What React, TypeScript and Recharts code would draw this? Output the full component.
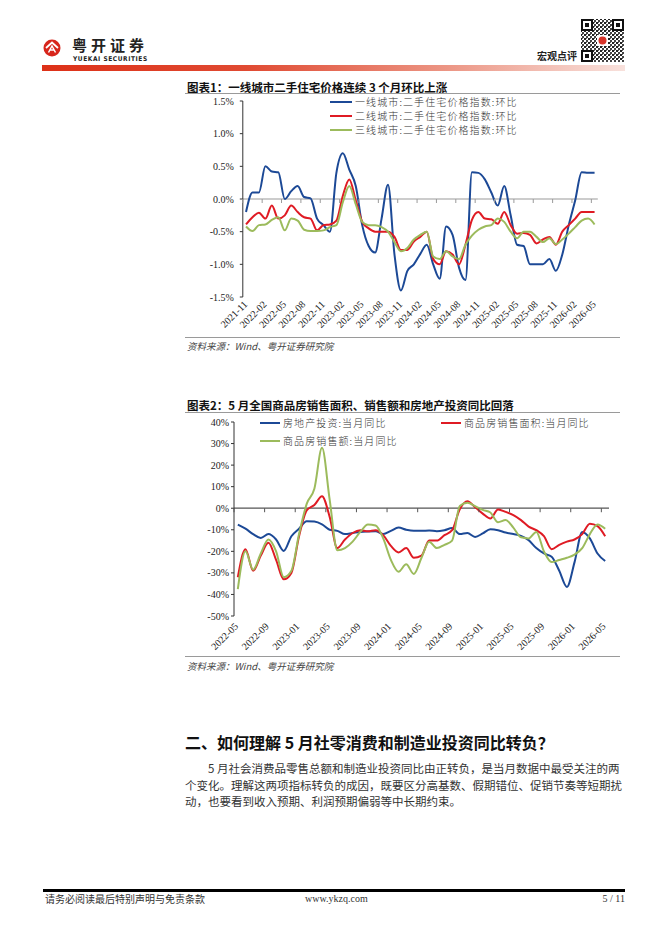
import { Legend, Line, LineChart, ReferenceLine, XAxis, YAxis } from 'recharts';

const CJK = '"Noto Sans CJK SC", "Noto Sans", sans-serif';
const SERIF = '"Liberation Serif", "Times New Roman", serif';

const BLUE = '#1c4996';
const RED = '#df1b24';
const GREEN = '#9cbb5c';

// 图表1：二手住宅价格指数环比（%）
const MONTHS_1 = [
  '2021-11', '2021-12',
  '2022-01', '2022-02', '2022-03', '2022-04', '2022-05', '2022-06', '2022-07', '2022-08', '2022-09', '2022-10', '2022-11', '2022-12',
  '2023-01', '2023-02', '2023-03', '2023-04', '2023-05', '2023-06', '2023-07', '2023-08', '2023-09', '2023-10', '2023-11', '2023-12',
  '2024-01', '2024-02', '2024-03', '2024-04', '2024-05', '2024-06', '2024-07', '2024-08', '2024-09', '2024-10', '2024-11', '2024-12',
  '2025-01', '2025-02', '2025-03', '2025-04', '2025-05', '2025-06', '2025-07', '2025-08', '2025-09', '2025-10', '2025-11', '2025-12',
  '2026-01', '2026-02', '2026-03', '2026-04', '2026-05',
];
const TICKS_1 = [
  '2021-11', '2022-02', '2022-05', '2022-08', '2022-11', '2023-02', '2023-05', '2023-08', '2023-11', '2024-02',
  '2024-05', '2024-08', '2024-11', '2025-02', '2025-05', '2025-08', '2025-11', '2026-02', '2026-05',
];
const TIER1_MOM = [
  -0.2, 0.1, 0.1, 0.5, 0.42, 0.41, 0.0, 0.12, 0.2, 0.03, 0.01, -0.3, -0.4, -0.5, 0.4, 0.7, 0.45, 0.2, -0.4, -0.72,
  -0.82, -0.3, 0.22, -0.85, -1.4, -1.1, -1.0, -0.84, -0.7, -1.0, -1.22, -0.42, -0.55, -1.05, -1.24, 0.41, 0.4, 0.3, 0.1, -0.1,
  0.2, -0.25, -0.7, -0.72, -1.0, -1.0, -1.0, -0.92, -1.1, -0.85, -0.4, -0.02, 0.41, 0.4, 0.4,
];
const TIER2_MOM = [
  -0.39, -0.28, -0.21, -0.3, -0.1, -0.3, -0.25, -0.1, -0.2, -0.28, -0.3, -0.48, -0.4, -0.39, -0.33, 0.05, 0.3, -0.02, -0.35, -0.45,
  -0.5, -0.5, -0.5, -0.58, -0.78, -0.78, -0.65, -0.58, -0.5, -0.92, -1.0, -0.8, -0.85, -1.0, -0.7, -0.32, -0.2, -0.3, -0.31, -0.38,
  -0.2, -0.4, -0.53, -0.52, -0.55, -0.68, -0.62, -0.58, -0.7, -0.5, -0.4, -0.3, -0.2, -0.2, -0.2,
];
const TIER3_MOM = [
  -0.42, -0.49, -0.4, -0.39, -0.32, -0.28, -0.48, -0.3, -0.33, -0.47, -0.49, -0.49, -0.48, -0.43, -0.4, -0.05, 0.2, -0.08, -0.35, -0.4,
  -0.4, -0.43, -0.5, -0.66, -0.8, -0.75, -0.62, -0.55, -0.5, -0.88, -0.92, -0.8, -0.88, -0.92, -0.7, -0.56, -0.47, -0.42, -0.4, -0.3,
  -0.35, -0.5, -0.6, -0.5, -0.5, -0.58, -0.66, -0.6, -0.69, -0.62, -0.53, -0.43, -0.33, -0.3, -0.39,
];
const Y_TICKS_1 = [-1.5, -1, -0.5, 0, 0.5, 1, 1.5];

// 图表2：当月同比（%）
const MONTHS_2 = [
  '2022-05', '2022-06', '2022-07', '2022-08', '2022-09', '2022-10', '2022-11', '2022-12',
  '2023-01', '2023-02', '2023-03', '2023-04', '2023-05', '2023-06', '2023-07', '2023-08', '2023-09', '2023-10', '2023-11', '2023-12',
  '2024-01', '2024-02', '2024-03', '2024-04', '2024-05', '2024-06', '2024-07', '2024-08', '2024-09', '2024-10', '2024-11', '2024-12',
  '2025-01', '2025-02', '2025-03', '2025-04', '2025-05', '2025-06', '2025-07', '2025-08', '2025-09', '2025-10', '2025-11', '2025-12',
  '2026-01', '2026-02', '2026-03', '2026-04', '2026-05',
];
const TICKS_2 = [
  '2022-05', '2022-09', '2023-01', '2023-05', '2023-09', '2024-01', '2024-05', '2024-09', '2025-01', '2025-05',
  '2025-09', '2026-01', '2026-05',
];
const INVEST_YOY = [
  -7.6, -9.5, -12, -13.8, -12, -14.5, -19.8, -13, -9.5, -6, -6.2, -7.5, -10, -10.5, -12, -11.5, -11, -10.8, -10.7, -12,
  -10.5, -9, -10, -10.5, -10.5, -10.3, -10.7, -10.2, -9.2, -12, -11.5, -13.3, -11.7, -9.8, -10.2, -11.3, -12, -12.8, -14.8, -18.5,
  -21, -22.5, -29, -36.5, -25, -11, -14, -21, -24.5,
];
const AREA_YOY = [
  -32, -19, -29, -22, -16, -24, -33, -30, -13, -1, 1.5, 5.5, -4, -18.5, -14.5, -11.5, -10.2, -10.7, -10.2, -12.5,
  -17.5, -20.5, -18.5, -23, -22, -15, -15, -12.5, -10.2, -0.5, 3.2, 0.5, -2.5, -4.8, -0.6, -1.7, -3.2, -5.5, -8.5, -10.2,
  -13, -19, -17, -15.5, -14.5, -12, -7.2, -8.3, -13,
];
const AMOUNT_YOY = [
  -37.5, -20, -28.5, -21, -14.5, -20, -32, -29, -12, 2, 9, 28, 4, -19.5, -18.5, -15.5, -11, -7.5, -8, -14,
  -24, -29.5, -26, -30.5, -23, -15.5, -18.5, -17, -15, 1, 2.5, 1, -0.8, -2, -6.5, -5.5, -9, -13.5, -14, -11,
  -20, -25, -24, -23, -21.5, -18.5, -12, -7.5, -9.5,
];
const Y_TICKS_2 = [-50, -40, -30, -20, -10, 0, 10, 20, 30, 40];

type Series = { key: string; name: string; color: string; values: number[] };

const SERIES_1: Series[] = [
  { key: 'tier1', name: '一线城市:二手住宅价格指数:环比', color: BLUE, values: TIER1_MOM },
  { key: 'tier2', name: '二线城市:二手住宅价格指数:环比', color: RED, values: TIER2_MOM },
  { key: 'tier3', name: '三线城市:二手住宅价格指数:环比', color: GREEN, values: TIER3_MOM },
];

const SERIES_2: Series[] = [
  { key: 'invest', name: '房地产投资:当月同比', color: BLUE, values: INVEST_YOY },
  { key: 'area', name: '商品房销售面积:当月同比', color: RED, values: AREA_YOY },
  { key: 'amount', name: '商品房销售额:当月同比', color: GREEN, values: AMOUNT_YOY },
];

interface PanelProps {
  months: string[];
  ticks: string[];
  series: Series[];
  yTicks: number[];
  yFormat: (v: number) => string;
  width: number;
  height: number;
  top: number;
  right: number;
  yWidth: number;
  plotH: number;
  yTickMargin: number;
  zeroColor: string;
  labelDx: number;
  labelDy: number;
  legend: { left: number; top: number; width: number; itemWidth: number; rowH: number; lineW: number; spacing: number };
}

function Panel(p: PanelProps) {
  const data = p.months.map((m, i) => {
    const row: Record<string, string | number> = { month: m };
    p.series.forEach((s) => {
      row[s.key] = s.values[i];
    });
    return row;
  });
  const yMin = p.yTicks[0];
  const yMax = p.yTicks[p.yTicks.length - 1];
  const plotW = p.width - p.yWidth - p.right;
  const half = plotW / p.months.length / 2;
  const zeroY = p.top + (p.plotH * yMax) / (yMax - yMin);
  const plotBottom = p.top + p.plotH;

  // label under the plot, tick mark on the zero line at the category boundary
  const renderTick = (props: any) => {
    const { x, payload } = props;
    const tx = x + p.labelDx;
    const ty = plotBottom + p.labelDy;
    return (
      <g>
        <line x1={x - half} x2={x - half} y1={zeroY} y2={zeroY + 4} stroke={p.zeroColor} strokeWidth={1} />
        <text
          x={tx}
          y={ty}
          transform={`rotate(-45 ${tx} ${ty})`}
          textAnchor="end"
          fontFamily={SERIF}
          fontSize={10}
          fill="#222"
        >
          {payload.value}
        </text>
      </g>
    );
  };

  const renderLegend = (props: any) => {
    const items = p.series.map((s) => props.payload?.find((it: any) => it.dataKey === s.key) ?? { value: s.name, color: s.color });
    return (
      <div style={{ display: 'flex', flexWrap: 'wrap', width: p.legend.width }}>
        {items.map((it: any) => (
          <div key={it.value} style={{ width: p.legend.itemWidth, height: p.legend.rowH, display: 'flex', alignItems: 'center' }}>
            <svg width={p.legend.lineW} height={4} style={{ flex: 'none' }}>
              <line x1={0} x2={p.legend.lineW} y1={2} y2={2} stroke={it.color} strokeWidth={2} />
            </svg>
            <span
              style={{
                marginLeft: 3,
                fontFamily: CJK,
                fontSize: 10,
                fontWeight: 300,
                letterSpacing: p.legend.spacing,
                color: '#333',
                whiteSpace: 'nowrap',
                lineHeight: 1,
              }}
            >
              {it.value}
            </span>
          </div>
        ))}
      </div>
    );
  };

  return (
    <LineChart
      width={p.width}
      height={p.height}
      data={data}
      margin={{ top: p.top, right: p.right, bottom: 0, left: 0 }}
    >
      <XAxis
        dataKey="month"
        ticks={p.ticks}
        interval={0}
        axisLine={false}
        tickLine={false}
        height={p.height - p.top - p.plotH}
        padding={{ left: half, right: half }}
        tick={renderTick}
      />
      <YAxis
        type="number"
        domain={[yMin, yMax]}
        ticks={p.yTicks}
        interval={0}
        width={p.yWidth}
        tickFormatter={p.yFormat}
        axisLine={{ stroke: '#333' }}
        tickLine={{ stroke: '#333' }}
        tickSize={3}
        tickMargin={p.yTickMargin}
        tick={{ fontFamily: SERIF, fontSize: 10, fill: '#222' }}
      />
      <ReferenceLine y={0} stroke={p.zeroColor} strokeWidth={1.2} />
      <Legend
        layout="vertical"
        align="center"
        verticalAlign="middle"
        wrapperStyle={{ left: p.legend.left, top: p.legend.top, width: p.legend.width }}
        content={renderLegend}
      />
      {p.series.map((s) => (
        <Line
          key={s.key}
          type="monotone"
          dataKey={s.key}
          name={s.name}
          stroke={s.color}
          strokeWidth={2}
          dot={false}
          activeDot={false}
          isAnimationActive={false}
        />
      ))}
    </LineChart>
  );
}

const abs = (left: number, top: number, extra: React.CSSProperties = {}): React.CSSProperties => ({
  position: 'absolute',
  left,
  top,
  ...extra,
});

function QrCode() {
  return (
    <svg width={45} height={45} viewBox="0 0 45 45">
      <defs>
        <pattern id="qrdots" width="4" height="4" patternUnits="userSpaceOnUse">
          <rect width="2" height="2" fill="#222" />
          <rect x="2" y="2" width="2" height="2" fill="#444" />
          <rect x="2" y="0" width="1" height="1" fill="#666" />
        </pattern>
      </defs>
      <rect width="45" height="45" fill="#fff" />
      <rect x="1" y="1" width="43" height="43" fill="url(#qrdots)" />
      {[
        [1, 1],
        [32, 1],
        [1, 32],
      ].map(([x, y]) => (
        <g key={`${x}-${y}`}>
          <rect x={x} y={y} width={12} height={12} fill="#fff" />
          <rect x={x + 1} y={y + 1} width={10} height={10} fill="none" stroke="#111" strokeWidth={2} />
          <rect x={x + 4} y={y + 4} width={4} height={4} fill="#111" />
        </g>
      ))}
      <rect x={17} y={17} width={11} height={11} fill="#fff" />
      <circle cx={22.5} cy={22.5} r={4} fill="#d8342a" />
    </svg>
  );
}

function Logo() {
  return (
    <svg width={18} height={18} viewBox="0 0 18 18">
      <circle cx={9} cy={9} r={8.5} fill="#d7261c" />
      <path d="M3 9 L9 3.5 L15 9" stroke="#fff" strokeWidth={1.8} fill="none" />
      <path d="M5.5 13.5 L9 7 L12.5 13.5 M6.5 11 H11.5" stroke="#fff" strokeWidth={1.5} fill="none" />
    </svg>
  );
}

export default function App() {
  const pct1 = (v: number) => `${v.toFixed(1)}%`;
  const pct2 = (v: number) => `${v}%`;
  return (
    <div style={{ position: 'absolute', left: 0, top: 0, width: 662, height: 936, background: '#fff', fontFamily: CJK, color: '#111' }}>
      {/* header */}
      <div style={abs(43, 38)}>
        <Logo />
      </div>
      <div style={abs(72, 37, { fontSize: 15, fontWeight: 700, letterSpacing: 4, lineHeight: '16px', color: '#222' })}>粤开证券</div>
      <div style={abs(73, 56, { fontSize: 6.5, fontWeight: 700, letterSpacing: 0.6, lineHeight: '7px', color: '#222', fontFamily: '"DejaVu Sans Condensed", "DejaVu Sans", sans-serif' })}>
        YUEKAI SECURITIES
      </div>
      <div
        style={abs(42, 65, {
          width: 583,
          height: 6,
          background: 'linear-gradient(to right, #dd3118 0%, #e04a32 35%, #ec9786 70%, #f8e1dc 100%)',
        })}
      />
      <div style={abs(537, 50, { fontSize: 10, fontWeight: 700, color: '#222', lineHeight: '12px' })}>宏观点评</div>
      <div style={abs(580, 18)}>
        <QrCode />
      </div>

      {/* chart 1 */}
      <div style={abs(187, 80, { fontSize: 11.5, fontWeight: 700, lineHeight: '14px', whiteSpace: 'nowrap' })}>
        图表1：一线城市二手住宅价格连续 3 个月环比上涨
      </div>
      <div style={abs(185, 93, { width: 435, height: 1, background: '#9a9a9a' })} />
      <div style={abs(180, 90)}>
        <Panel
          months={MONTHS_1}
          ticks={TICKS_1}
          series={SERIES_1}
          yTicks={Y_TICKS_1}
          yFormat={pct1}
          width={430}
          height={262}
          top={11}
          right={12.2}
          yWidth={62.8}
          plotH={196}
          yTickMargin={6}
          zeroColor="#9a9a9a"
          labelDx={2}
          labelDy={8}
          legend={{ left: 150, top: 5, width: 220, itemWidth: 220, rowH: 14, lineW: 22, spacing: 1.1 }}
        />
      </div>
      <div style={abs(185, 337, { width: 435, height: 1, background: '#9a9a9a' })} />
      <div style={abs(187, 340, { fontSize: 9.5, fontStyle: 'italic', color: '#444', lineHeight: '12px' })}>
        资料来源：Wind、粤开证券研究院
      </div>

      {/* chart 2 */}
      <div style={abs(187, 398, { fontSize: 11.5, fontWeight: 700, lineHeight: '14px', whiteSpace: 'nowrap' })}>
        图表2：5 月全国商品房销售面积、销售额和房地产投资同比回落
      </div>
      <div style={abs(185, 412, { width: 435, height: 1, background: '#9a9a9a' })} />
      <div style={abs(180, 410)}>
        <Panel
          months={MONTHS_2}
          ticks={TICKS_2}
          series={SERIES_2}
          yTicks={Y_TICKS_2}
          yFormat={pct2}
          width={440}
          height={258}
          top={12}
          right={11}
          yWidth={54}
          plotH={194}
          yTickMargin={2}
          zeroColor="#555"
          labelDx={1}
          labelDy={11}
          legend={{ left: 80, top: 4, width: 362, itemWidth: 181, rowH: 18, lineW: 20, spacing: 1.1 }}
        />
      </div>
      <div style={abs(185, 656, { width: 435, height: 1, background: '#9a9a9a' })} />
      <div style={abs(187, 660, { fontSize: 9.5, fontStyle: 'italic', color: '#444', lineHeight: '12px' })}>
        资料来源：Wind、粤开证券研究院
      </div>

      {/* section text */}
      <div style={abs(185, 732, { fontSize: 16, fontWeight: 700, lineHeight: '20px', whiteSpace: 'nowrap' })}>
        二、如何理解 5 月社零消费和制造业投资同比转负？
      </div>
      <div style={abs(208, 760, { width: 402, fontSize: 11.5, lineHeight: '16px', color: '#333', textAlign: 'justify', textAlignLast: 'justify', whiteSpace: 'nowrap' })}>
        5 月社会消费品零售总额和制造业投资同比由正转负，是当月数据中最受关注的两
      </div>
      <div style={abs(185, 777, { width: 426, fontSize: 11.5, lineHeight: '16px', color: '#333', textAlign: 'justify', textAlignLast: 'justify', whiteSpace: 'nowrap' })}>
        个变化。理解这两项指标转负的成因，既要区分高基数、假期错位、促销节奏等短期扰
      </div>
      <div style={abs(185, 793, { fontSize: 11.5, lineHeight: '16px', color: '#333', whiteSpace: 'nowrap' })}>
        动，也要看到收入预期、利润预期偏弱等中长期约束。
      </div>

      {/* footer */}
      <div style={abs(43, 889, { width: 582, height: 3, background: '#000' })} />
      <div style={abs(45, 893, { fontSize: 10, lineHeight: '12px', color: '#333' })}>请务必阅读最后特别声明与免责条款</div>
      <div style={abs(305, 893, { fontSize: 10, lineHeight: '12px', color: '#333', fontFamily: SERIF })}>www.ykzq.com</div>
      <div style={abs(560, 893, { width: 65, textAlign: 'right', fontSize: 10, lineHeight: '12px', color: '#333', fontFamily: SERIF })}>
        5 / 11
      </div>
    </div>
  );
}
